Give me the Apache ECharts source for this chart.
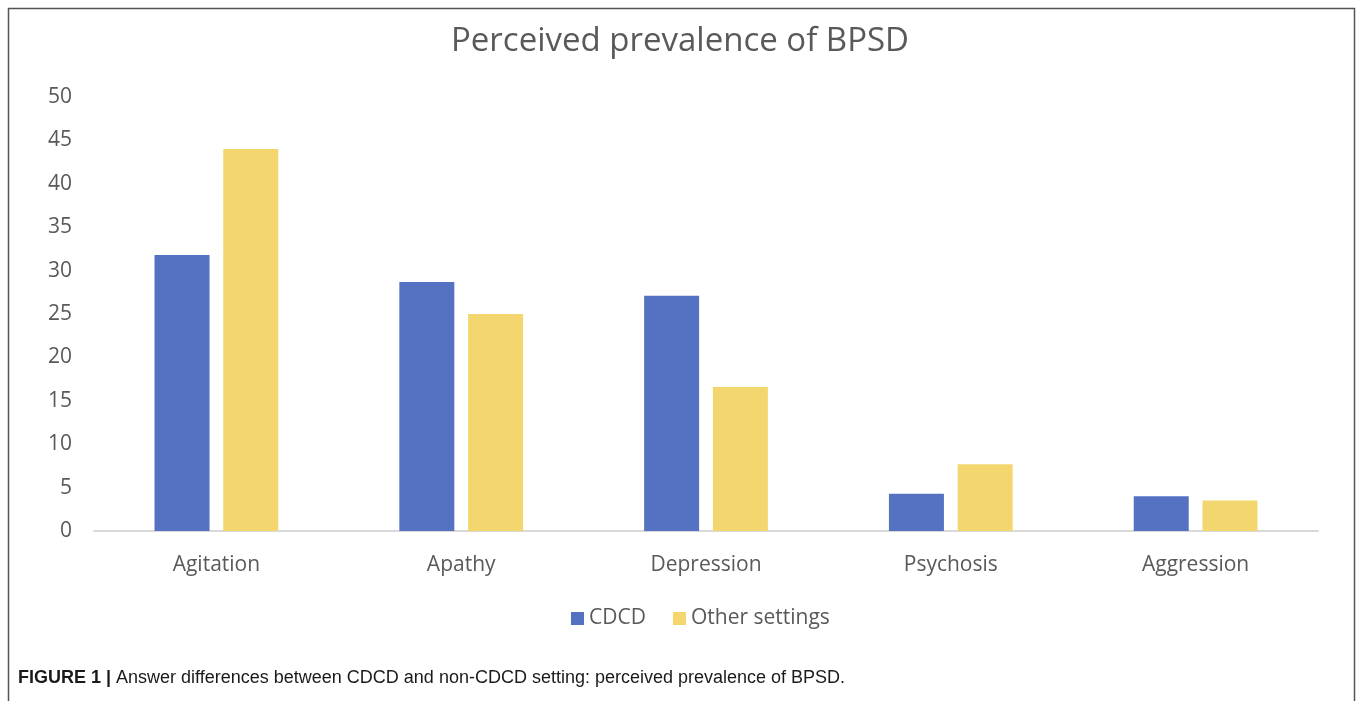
<!DOCTYPE html>
<html>
<head>
<meta charset="utf-8">
<script src="https://cdn.jsdelivr.net/npm/echarts@6/dist/echarts.min.js"></script>
<style>
html,body{margin:0;padding:0;background:#fff;}
#chart{width:1360px;height:701px;}
</style>
</head>
<body>
<div id="chart"></div>
<script>
const titleText = 'Perceived prevalence of BPSD';
const categories = ['Agitation', 'Apathy', 'Depression', 'Psychosis', 'Aggression'];
const seriesNames = ['CDCD', 'Other settings'];
const cdcdValues = [31.8, 28.7, 27.1, 4.3, 4.0];
const otherValues = [44.0, 25.0, 16.6, 7.7, 3.5];
const yTicks = { min: 0, max: 50, interval: 5 };
const captionBold = 'FIGURE 1 |';
const captionText = ' Answer differences between CDCD and non-CDCD setting: perceived prevalence of BPSD.';

const chart = echarts.init(document.getElementById('chart'), null, { renderer: 'canvas' });
const fontFam = '"Open Sans", "Noto Sans", sans-serif';
chart.setOption({
  animation: false,
  backgroundColor: '#ffffff',
  title: {
    text: titleText,
    left: 'center',
    top: 20,
    textStyle: { fontFamily: fontFam, fontSize: 33, fontWeight: 'normal', color: '#595959' }
  },
  legend: {
    data: seriesNames,
    left: 566,
    top: 603,
    itemWidth: 13,
    itemHeight: 13,
    itemGap: 27,
    icon: 'rect',
    textStyle: { fontFamily: fontFam, fontSize: 21, color: '#595959' }
  },
  grid: { left: 94, right: 42, top: 97, bottom: 170 },
  xAxis: {
    type: 'category',
    data: categories,
    axisLine: { lineStyle: { color: '#d9d9d9', width: 2 } },
    axisTick: { show: false },
    axisLabel: { fontFamily: fontFam, fontSize: 21, color: '#595959', margin: 24 }
  },
  yAxis: {
    type: 'value',
    min: yTicks.min,
    max: yTicks.max,
    interval: yTicks.interval,
    axisLine: { show: false },
    axisTick: { show: false },
    splitLine: { show: false },
    axisLabel: { fontFamily: fontFam, fontSize: 21, color: '#595959', margin: 22 }
  },
  series: [
    { name: seriesNames[0], type: 'bar', data: cdcdValues, barWidth: 55, barGap: '25%',
      itemStyle: { color: '#5572c2' } },
    { name: seriesNames[1], type: 'bar', data: otherValues, barWidth: 55,
      itemStyle: { color: '#f3d76e' } }
  ],
  graphic: [
    { type: 'rect', shape: { x: 8.5, y: 8.5, width: 1346, height: 720 },
      style: { fill: 'none', stroke: '#555555', lineWidth: 1.5 }, silent: true },
    { type: 'text', left: 18, top: 669,
      style: {
        text: '{b|' + captionBold + '}{r|' + captionText + '}',
        rich: {
          b: { fontFamily: '"Liberation Sans", Arial, sans-serif', fontWeight: 'bold', fontSize: 18, fill: '#1a1a1a' },
          r: { fontFamily: '"Liberation Sans", Arial, sans-serif', fontSize: 18, fill: '#1a1a1a' }
        }
      } }
  ]
});
</script>
</body>
</html>
